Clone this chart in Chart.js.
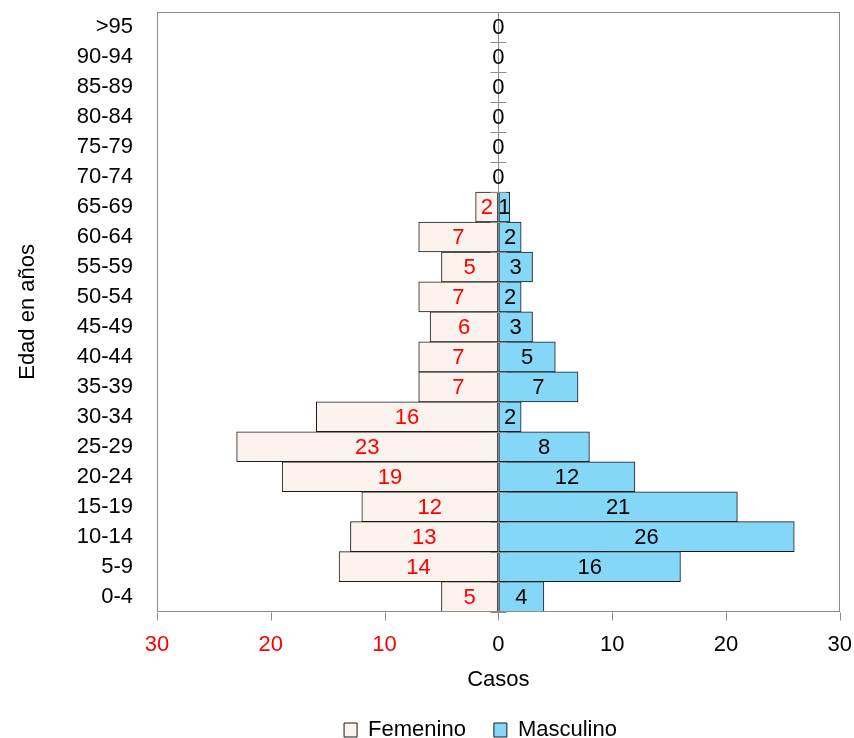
<!DOCTYPE html>
<html>
<head>
<meta charset="utf-8">
<script src="https://cdn.jsdelivr.net/npm/chart.js@4/dist/chart.umd.min.js"></script>
<style>
html,body{margin:0;padding:0;background:#fff;}
#wrap{width:854px;height:738px;}
</style>
</head>
<body>
<div id="wrap"><canvas id="c" width="854" height="738"></canvas></div>
<script>
const ageGroups = ["0-4","5-9","10-14","15-19","20-24","25-29","30-34","35-39","40-44","45-49","50-54","55-59","60-64","65-69","70-74","75-79","80-84","85-89","90-94",">95"];
const femenino = [5,14,13,12,19,23,16,7,7,6,7,5,7,2,0,0,0,0,0,0];
const masculino = [4,16,26,21,12,8,2,7,5,3,2,3,2,1,0,0,0,0,0,0];
const xTicks = [-30,-20,-10,0,10,20,30];

const FONT = '"Liberation Sans Narrow", "Arial Narrow", "Liberation Sans", Arial, sans-serif';
const FS = 22;

const pyramidPlugin = {
  id: 'pyramid',
  afterLayout(chart) {
    const l = chart.legend;
    if (l) { l.left += 55; l.right += 55; }
  },
  afterDatasetsDraw(chart) {
    const ctx = chart.ctx;
    const area = chart.chartArea;
    const xs = chart.scales.x, ys = chart.scales.y;
    ctx.save();
    ctx.strokeStyle = '#8c8c8c';
    ctx.lineWidth = 1;
    ctx.strokeRect(Math.round(area.left)+0.5, Math.round(area.top)+0.5, Math.round(area.right-area.left)-1, Math.round(area.bottom-area.top));
    ctx.beginPath();
    const yb0 = Math.round(area.bottom) + 0.5;
    xTicks.forEach(v => {
      const px = Math.round(xs.getPixelForValue(v)) + 0.5;
      ctx.moveTo(px, yb0);
      ctx.lineTo(px, yb0 + 8);
    });
    const x0 = Math.round(xs.getPixelForValue(0)) + 0.5;
    ctx.moveTo(x0, area.top);
    ctx.lineTo(x0, area.bottom);
    const n = ageGroups.length;
    const step = ys.getPixelForValue(0) - ys.getPixelForValue(1);
    for (let i = 0; i <= n; i++) {
      let yb;
      if (i === 0) yb = ys.getPixelForValue(0) + step / 2;
      else if (i === n) yb = ys.getPixelForValue(n-1) - step / 2;
      else yb = (ys.getPixelForValue(i-1) + ys.getPixelForValue(i)) / 2;
      yb = Math.round(yb) + 0.5;
      ctx.moveTo(x0 - 8, yb);
      ctx.lineTo(x0 + 8, yb);
    }
    ctx.stroke();
    ctx.font = FS + 'px ' + FONT;
    ctx.textAlign = 'center';
    ctx.textBaseline = 'middle';
    chart.data.datasets.forEach((ds, di) => {
      const meta = chart.getDatasetMeta(di);
      meta.data.forEach((bar, i) => {
        const v = Math.abs(ds.data[i]);
        if (di === 0 && v === 0) return;
        ctx.fillStyle = di === 0 ? '#ff0000' : '#000000';
        const cx = (bar.x + bar.base) / 2;
        ctx.fillText(String(v), cx, bar.y + 1);
      });
    });
    ctx.restore();
  }
};

new Chart(document.getElementById('c'), {
  type: 'bar',
  data: {
    labels: ageGroups,
    datasets: [
      {
        label: 'Femenino',
        data: femenino.map(v => -v),
        backgroundColor: '#fcf3ee',
        borderColor: '#1a1a1a',
        borderWidth: 1,
        borderSkipped: false
      },
      {
        label: 'Masculino',
        data: masculino,
        backgroundColor: '#84d7f7',
        borderColor: '#1a1a1a',
        borderWidth: 1,
        borderSkipped: false
      }
    ]
  },
  options: {
    indexAxis: 'y',
    responsive: false,
    animation: false,
    devicePixelRatio: 1,
    layout: { padding: { top: 0, right: 3, left: 0, bottom: -13 } },
    datasets: { bar: { categoryPercentage: 1, barPercentage: 1 } },
    scales: {
      x: {
        stacked: true,
        min: -30, max: 30,
        afterBuildTicks(scale) { scale.ticks = xTicks.map(v => ({ value: v })); },
        grid: { display: true, drawOnChartArea: false, drawTicks: true, tickLength: 18, color: 'rgba(0,0,0,0)' },
        border: { display: true, color: '#8c8c8c' },
        ticks: {
          font: { family: FONT, size: FS },
          color: (c) => (c.tick && c.tick.value < 0) ? '#ff0000' : '#000000',
          callback: (v) => Math.abs(v),
          padding: 2,
          maxRotation: 0
        },
        title: { display: true, text: 'Casos', color: '#000', font: { family: FONT, size: FS, lineHeight: 1 }, padding: { top: 9, bottom: 0 } }
      },
      y: {
        stacked: true,
        reverse: true,
        grid: { display: true, drawOnChartArea: false, drawTicks: true, tickLength: 25, color: 'rgba(0,0,0,0)' },
        border: { display: true, color: '#8c8c8c' },
        afterFit(scale) { scale.width = 157; },
        ticks: { font: { family: FONT, size: FS }, color: '#000', padding: -1, autoSkip: false },
        title: { display: true, text: 'Edad en años', color: '#000', font: { family: FONT, size: FS }, padding: { top: 15, bottom: 0 } }
      }
    },
    plugins: {
      legend: {
        position: 'bottom',
        labels: {
          font: { family: FONT, size: FS },
          color: '#000',
          boxWidth: 13,
          boxHeight: 14,
          padding: 28
        }
      },
      tooltip: { enabled: false }
    }
  },
  plugins: [pyramidPlugin]
});
</script>
</body>
</html>
